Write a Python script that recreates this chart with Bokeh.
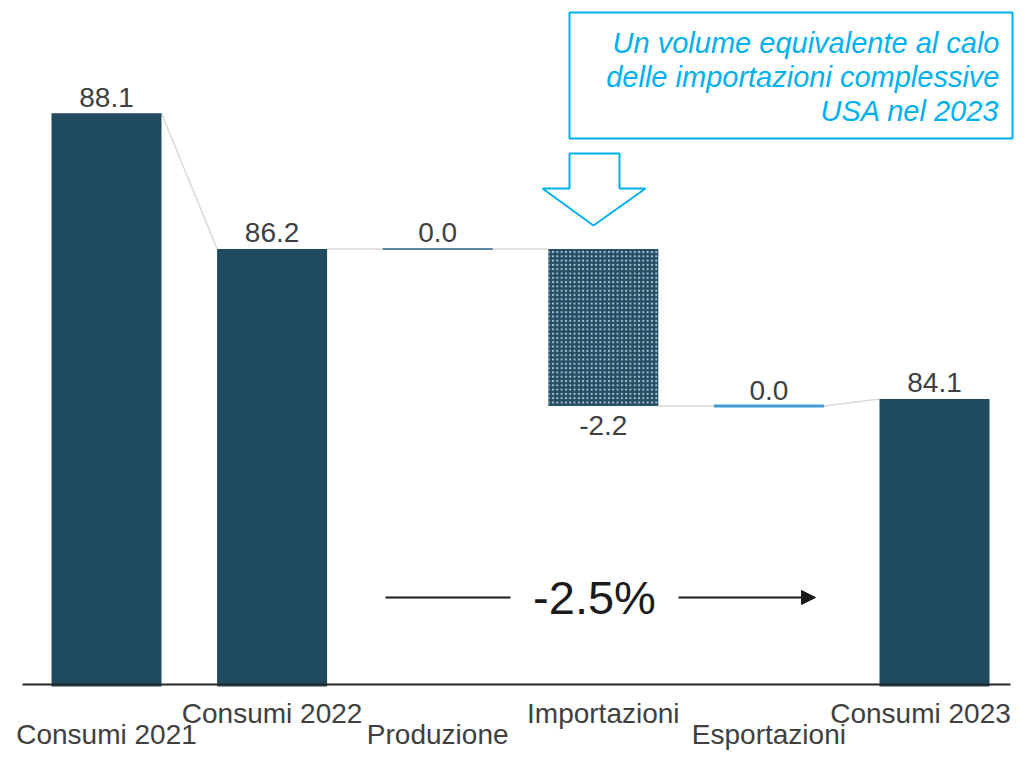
from bokeh.plotting import figure
from bokeh.models import Range1d, Arrow, NormalHead
from bokeh.core.properties import value
from bokeh.embed import file_html
from bokeh.resources import INLINE

# ---------------- data ----------------
categories = ["Consumi 2021", "Consumi 2022", "Produzione", "Importazioni", "Esportazioni", "Consumi 2023"]
values = [88.1, 86.2, 0.0, -2.2, 0.0, 84.1]
kinds = ["total", "total", "delta", "delta", "delta", "total"]
label_row = [1, 0, 1, 0, 1, 0]          # 0 = upper row, 1 = lower row
change_text = "-2.5%"
note_lines = ["Un volume equivalente al calo", "delle importazioni complessive", "USA nel 2023"]

# ---------------- layout constants ----------------
W, H = 1014, 750
Y_BASE = 80.1          # value at the baseline
K = 71.4               # px per unit (y)
S = 165.6              # px per category (x)
X0PX = 106             # px of category 0 centre
YBPX = 684             # px of baseline
BAR_W = 110 / S

def px2x(px):
    return (px - X0PX) / S

def px2y(py):
    return Y_BASE + (YBPX - py) / K

DARK = "#1F4A5F"
bar_colors = [DARK, DARK, "#5B89A6", DARK, "#3E9BD3", DARK]
TXT = "#404040"
CYAN = "#00B0F0"
FONT = value("Liberation Sans")

p = figure(width=W, height=H, output_backend="svg", toolbar_location=None,
           x_axis_location=None, y_axis_location=None,
           x_range=Range1d(px2x(0), px2x(W)), y_range=Range1d(px2y(H), px2y(0)),
           min_border=0, min_border_left=0, min_border_right=0,
           min_border_top=0, min_border_bottom=0)
p.outline_line_color = None
p.grid.visible = False
p.background_fill_color = "white"

# ---------------- waterfall geometry ----------------
running = 0.0
starts, ends, bottoms, tops = [], [], [], []
for v, k in zip(values, kinds):
    if k == "total":
        s, e = v, v
        b, t = Y_BASE, v
    else:
        s, e = running, running + v
        b, t = min(s, e), max(s, e)
    running = e
    starts.append(s); ends.append(e); bottoms.append(b); tops.append(t)

xs = list(range(len(categories)))

# connectors
cx0, cy0, cx1, cy1 = [], [], [], []
for i in range(len(xs) - 1):
    cx0.append(xs[i] + BAR_W / 2); cy0.append(ends[i])
    cx1.append(xs[i + 1] - BAR_W / 2); cy1.append(starts[i + 1])
p.segment(x0=cx0, y0=cy0, x1=cx1, y1=cy1, line_color="#D9D9D9", line_width=1.5)

# bars
for i in xs:
    if kinds[i] == "total":
        p.quad(left=[xs[i] - BAR_W / 2], right=[xs[i] + BAR_W / 2],
               bottom=[bottoms[i] - 2 / K], top=[tops[i]],
               fill_color=bar_colors[i], line_color=None)
    elif values[i] == 0:
        th = 2 if i == 2 else 3
        p.rect(x=[xs[i]], y=[tops[i]], width=BAR_W, height=th, height_units="screen",
               fill_color=bar_colors[i], line_color=None)
    else:
        p.quad(left=[xs[i] - BAR_W / 2], right=[xs[i] + BAR_W / 2],
               bottom=[bottoms[i]], top=[tops[i]],
               fill_color="#234F66", line_color=None,
               hatch_pattern="dot", hatch_color="#B5C6D2", hatch_scale=4.3, hatch_weight=2.0)

# baseline
p.segment(x0=[px2x(22)], y0=[Y_BASE], x1=[px2x(1010)], y1=[Y_BASE], line_color="#262626", line_width=2)

# value labels
lx, ly, lt = [], [], []
for i in xs:
    lx.append(xs[i])
    if kinds[i] == "delta" and values[i] < 0:
        ly.append(bottoms[i] - 19 / K)
    else:
        ly.append(tops[i] + 16 / K)
    lt.append(f"{values[i]:.1f}")
p.text(x=lx, y=ly, text=lt, text_font=FONT, text_font_size="28px", text_color=TXT,
       text_align="center", text_baseline="middle")

# category labels (staggered); last one kept inside the canvas
half_w = 92
cat_x = [min(float(x), px2x(W - 2 - half_w)) for x in xs]
cat_y = [px2y(713) if r == 0 else px2y(734) for r in label_row]
p.text(x=cat_x, y=cat_y, text=categories, text_font=FONT, text_font_size="28px", text_color=TXT,
       text_align="center", text_baseline="middle")

# -2.5% annotation
p.text(x=[px2x(594)], y=[px2y(597)], text=[change_text], text_font=FONT, text_font_size="47px",
       text_color="#1A1A1A", text_align="center", text_baseline="middle")
p.segment(x0=[px2x(385)], y0=[px2y(597)], x1=[px2x(510)], y1=[px2y(597)], line_color="#1A1A1A", line_width=2)
p.add_layout(Arrow(x_start=px2x(678), y_start=px2y(597), x_end=px2x(815), y_end=px2y(597),
                   line_color="#1A1A1A", line_width=2,
                   end=NormalHead(size=14, fill_color="#1A1A1A", line_color="#1A1A1A")))

# note box
p.quad(left=[px2x(569)], right=[px2x(1012)], top=[px2y(12)], bottom=[px2y(138)],
       fill_color="white", line_color=CYAN, line_width=2)
p.text(x=[px2x(999)] * 3, y=[px2y(42), px2y(76), px2y(110)], text=note_lines,
       text_font=FONT, text_font_size="29px", text_font_style="italic", text_color=CYAN,
       text_align="right", text_baseline="middle")

# block arrow (outline)
ax = [569, 619, 619, 645, 593, 542, 569]
ay = [153, 153, 188, 188, 225, 188, 188]
p.patch(x=[px2x(a) for a in ax], y=[px2y(b) for b in ay], fill_color="white",
        line_color=CYAN, line_width=2)

open("out.html", "w").write(file_html(p, INLINE))
